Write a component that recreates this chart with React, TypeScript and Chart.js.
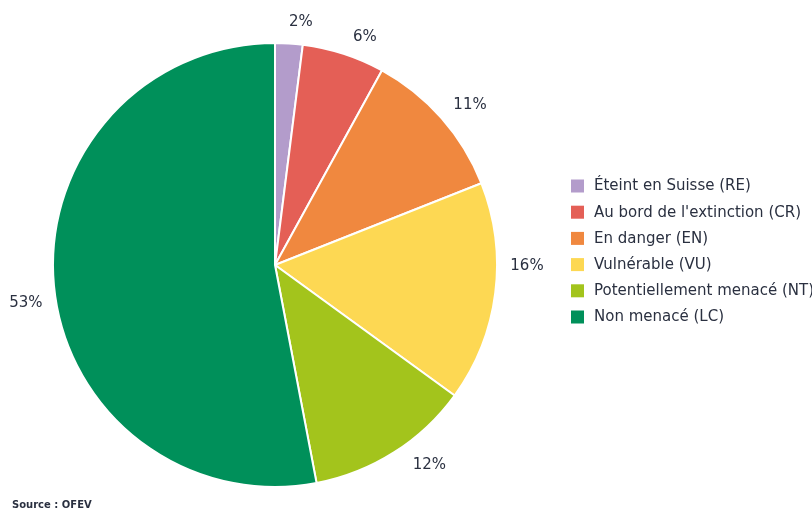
import React, { useEffect, useRef } from "react";
import { Chart, registerables } from "chart.js";

Chart.register(...registerables);

const categories = [
  "Éteint en Suisse (RE)",
  "Au bord de l'extinction (CR)",
  "En danger (EN)",
  "Vulnérable (VU)",
  "Potentiellement menacé (NT)",
  "Non menacé (LC)",
];
const values = [2, 6, 11, 16, 12, 53];
const colors = ["#b39ccb", "#e45f56", "#f0883f", "#fdd853", "#a3c41c", "#00905a"];
const sourceText = "Source : OFEV";

// small nudges for outside labels (degrees, px), as in the reference
const labelAngleNudge = [2.5, 3.5, 2.1, -7, -5.2, -3.3];
const labelRadiusNudge = [-8, -7, 0, 0, 1, 0];

const TEXT_COLOR = "#2a3040";

const overlayPlugin = {
  id: "overlay",
  afterDraw(chart: any) {
    const ctx = chart.ctx as CanvasRenderingContext2D;
    const meta = chart.getDatasetMeta(0);
    const ds = chart.data.datasets[0];
    const total = (ds.data as number[]).reduce((a, b) => a + b, 0);
    ctx.save();
    // percentage labels
    ctx.font = "15px 'DejaVu Sans'";
    ctx.fillStyle = TEXT_COLOR;
    ctx.textAlign = "center";
    ctx.textBaseline = "middle";
    meta.data.forEach((arc: any, i: number) => {
      const p = arc.getProps(["x", "y", "startAngle", "endAngle", "outerRadius"], true);
      const mid = (p.startAngle + p.endAngle) / 2 + (labelAngleNudge[i] * Math.PI) / 180;
      const r = p.outerRadius + 30 + labelRadiusNudge[i];
      const x = p.x + Math.cos(mid) * r;
      const y = p.y + Math.sin(mid) * r;
      const pct = Math.round(((ds.data[i] as number) / total) * 100);
      ctx.fillText(pct + "%", x, y);
    });
    // legend
    const lx = 571;
    const ly0 = 186;
    const step = 26.2;
    ctx.textAlign = "left";
    chart.data.labels.forEach((lab: string, i: number) => {
      const y = ly0 + i * step;
      ctx.fillStyle = (ds.backgroundColor as string[])[i];
      ctx.fillRect(lx, y - 6.5, 13, 13);
      ctx.fillStyle = TEXT_COLOR;
      ctx.font = "15px 'DejaVu Sans'";
      ctx.fillText(lab, lx + 23, y + 0.5);
    });
    // source
    ctx.font = "bold 10px 'DejaVu Sans'";
    ctx.fillStyle = TEXT_COLOR;
    ctx.fillText(sourceText, 12, 505);
    ctx.restore();
  },
};

export default function App() {
  const ref = useRef<HTMLCanvasElement | null>(null);
  useEffect(() => {
    document.body.style.margin = "0";
    const chart = new Chart(ref.current as HTMLCanvasElement, {
      type: "pie",
      data: {
        labels: categories,
        datasets: [
          {
            data: values,
            backgroundColor: colors,
            borderColor: "#ffffff",
            borderWidth: 2,
          },
        ],
      },
      options: {
        animation: false,
        responsive: false,
        maintainAspectRatio: false,
        layout: { padding: { left: 52, right: 314, top: 42, bottom: 23 } },
        plugins: {
          legend: { display: false },
          tooltip: { enabled: false },
        },
      },
      plugins: [overlayPlugin],
    });
    return () => chart.destroy();
  }, []);
  return (
    <div style={{ position: "fixed", left: 0, top: 0, width: 812, height: 511, background: "#fff" }}>
      <canvas ref={ref} width={812} height={511} style={{ width: 812, height: 511 }} />
    </div>
  );
}
